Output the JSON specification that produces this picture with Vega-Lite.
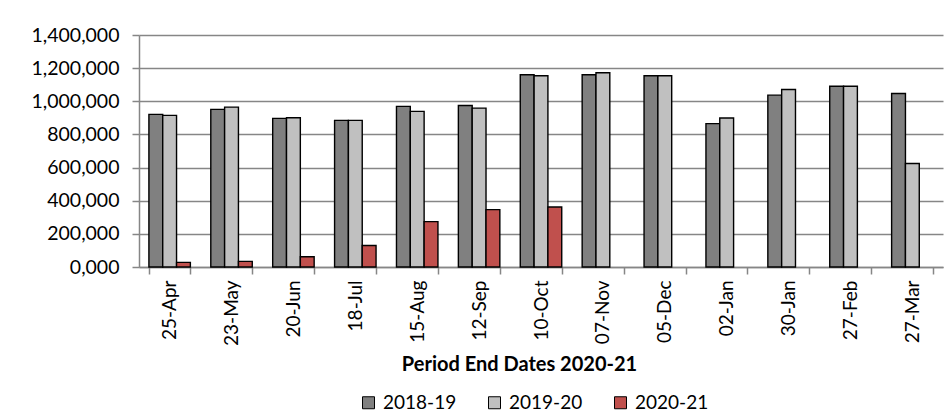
{
  "$schema": "https://vega.github.io/schema/vega-lite/v6.json",
  "width": 804,
  "height": 232,
  "autosize": {"type": "none"},
  "padding": {"left": 139, "top": 35, "right": 8, "bottom": 151},
  "background": "white",
  "data": {"values": [
    {"d": "25-Apr", "s": "2018-19", "v": 921000}, {"d": "25-Apr", "s": "2019-20", "v": 915000}, {"d": "25-Apr", "s": "2020-21", "v": 28000},
    {"d": "23-May", "s": "2018-19", "v": 951000}, {"d": "23-May", "s": "2019-20", "v": 965000}, {"d": "23-May", "s": "2020-21", "v": 34000},
    {"d": "20-Jun", "s": "2018-19", "v": 897000}, {"d": "20-Jun", "s": "2019-20", "v": 901000}, {"d": "20-Jun", "s": "2020-21", "v": 62000},
    {"d": "18-Jul", "s": "2018-19", "v": 885000}, {"d": "18-Jul", "s": "2019-20", "v": 885000}, {"d": "18-Jul", "s": "2020-21", "v": 130000},
    {"d": "15-Aug", "s": "2018-19", "v": 969000}, {"d": "15-Aug", "s": "2019-20", "v": 939000}, {"d": "15-Aug", "s": "2020-21", "v": 274000},
    {"d": "12-Sep", "s": "2018-19", "v": 975000}, {"d": "12-Sep", "s": "2019-20", "v": 959000}, {"d": "12-Sep", "s": "2020-21", "v": 346000},
    {"d": "10-Oct", "s": "2018-19", "v": 1160000}, {"d": "10-Oct", "s": "2019-20", "v": 1154000}, {"d": "10-Oct", "s": "2020-21", "v": 362000},
    {"d": "07-Nov", "s": "2018-19", "v": 1160000}, {"d": "07-Nov", "s": "2019-20", "v": 1172000},
    {"d": "05-Dec", "s": "2018-19", "v": 1154000}, {"d": "05-Dec", "s": "2019-20", "v": 1154000},
    {"d": "02-Jan", "s": "2018-19", "v": 865000}, {"d": "02-Jan", "s": "2019-20", "v": 899000},
    {"d": "30-Jan", "s": "2018-19", "v": 1037000}, {"d": "30-Jan", "s": "2019-20", "v": 1071000},
    {"d": "27-Feb", "s": "2018-19", "v": 1091000}, {"d": "27-Feb", "s": "2019-20", "v": 1091000},
    {"d": "27-Mar", "s": "2018-19", "v": 1047000}, {"d": "27-Mar", "s": "2019-20", "v": 625000}
  ]},
  "mark": {"type": "bar", "stroke": "#000000", "strokeWidth": 1.4},
  "encoding": {
    "x": {
      "field": "d", "type": "nominal", "sort": null,
      "scale": {"paddingInner": 0.33, "paddingOuter": 0.16},
      "axis": {
        "title": "Period End Dates 2020-21",
        "labelAngle": -90,
        "labelFont": "Lato", "labelFontSize": 19, "labelColor": "#000000",
        "labelPadding": 6,
        "tickBand": "extent", "tickSize": 7, "tickColor": "#868686", "tickWidth": 1.5,
        "domainColor": "#868686", "domainWidth": 1.5,
        "titleFont": "Lato", "titleFontSize": 20, "titleFontWeight": "bold", "titleColor": "#000000",
        "titleX": 380, "titleY": 97, "titleBaseline": "middle", "titleAlign": "center", "titleAnchor": null
      }
    },
    "xOffset": {"field": "s", "type": "nominal", "scale": {"paddingInner": 0}},
    "y": {
      "field": "v", "type": "quantitative",
      "scale": {"domain": [0, 1400000], "nice": false},
      "axis": {
        "title": null,
        "values": [0, 200000, 400000, 600000, 800000, 1000000, 1200000, 1400000],
        "labelExpr": "datum.value == 0 ? '0,000' : format(datum.value, ',')",
        "labelFont": "Lato", "labelFontSize": 19.5, "labelColor": "#000000",
        "labelPadding": 13,
        "tickSize": 7, "tickColor": "#868686", "tickWidth": 1.5,
        "domainColor": "#868686", "domainWidth": 1.5,
        "grid": true, "gridColor": "#868686", "gridWidth": 1.5
      }
    },
    "fill": {
      "field": "s", "type": "nominal",
      "scale": {"domain": ["2018-19", "2019-20", "2020-21"], "range": ["#808080", "#c0c0c0", "#c0504d"]},
      "legend": {
        "title": null, "orient": "none", "direction": "horizontal",
        "legendX": 220, "legendY": 358,
        "symbolType": "square", "symbolSize": 144, "symbolStrokeColor": "#000000", "symbolStrokeWidth": 1,
        "labelFont": "Lato", "labelFontSize": 19, "labelColor": "#000000",
        "columnPadding": 28, "labelOffset": 5
      }
    }
  },
  "config": {"view": {"stroke": null}}
}
